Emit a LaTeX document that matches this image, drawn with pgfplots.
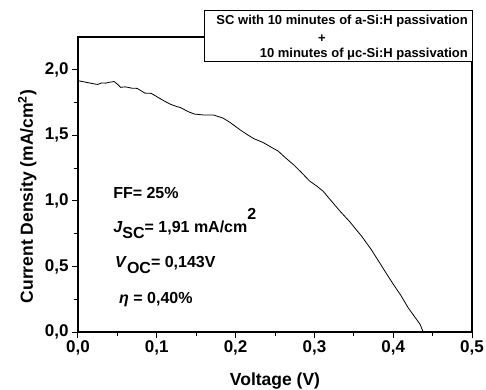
\documentclass[border=0pt]{standalone}
\usepackage{fontspec}
\setmainfont{Liberation Sans}
\usepackage{pgfplots}
\pgfplotsset{compat=1.18}
\begin{document}
\begin{tikzpicture}
\begin{axis}[
  name=ax,
  scale only axis, width=394bp, height=295bp,
  xmin=0, xmax=0.5, ymin=0, ymax=2.25,
  axis line style={line width=1.1bp},
  xtick={0,0.1,0.2,0.3,0.4,0.5},
  ytick={0,0.5,1,1.5,2},
  minor x tick num=1, minor y tick num=1,
  tick align=outside,
  xtick pos=bottom, ytick pos=left,
  major tick length=6bp, minor tick length=4bp,
  every tick/.style={line width=1bp, black},
  /pgf/number format/.cd, use comma, fixed, fixed zerofill, precision=1, assume math mode=true,
  /pgfplots/.cd,
  tick label style={font=\bfseries\fontsize{17bp}{17bp}\selectfont},
  xticklabel style={anchor=base, yshift=-14bp},
  xlabel={Voltage (V)},
  ylabel={Current Density (mA/cm\textsuperscript{2})},
  label style={font=\bfseries\fontsize{17.5bp}{18bp}\selectfont},
  xlabel style={at={(rel axis cs:0.5,0)}, anchor=base, yshift=-53bp},
  ylabel style={at={(rel axis cs:-0.129,0.459)}, anchor=center},
  clip=false,
]
\addplot[black, line width=0.8bp, mark=none] table[row sep=\\] {
x y\\
0.000 1.917\\
0.010 1.905\\
0.020 1.893\\
0.025 1.888\\
0.030 1.900\\
0.035 1.898\\
0.040 1.905\\
0.046 1.910\\
0.050 1.890\\
0.054 1.866\\
0.060 1.870\\
0.068 1.860\\
0.075 1.858\\
0.080 1.840\\
0.085 1.822\\
0.093 1.820\\
0.100 1.795\\
0.110 1.760\\
0.117 1.738\\
0.125 1.720\\
0.130 1.712\\
0.140 1.680\\
0.148 1.662\\
0.160 1.655\\
0.172 1.655\\
0.184 1.632\\
0.193 1.598\\
0.205 1.545\\
0.215 1.505\\
0.223 1.475\\
0.235 1.445\\
0.245 1.410\\
0.254 1.380\\
0.263 1.330\\
0.273 1.279\\
0.283 1.220\\
0.294 1.151\\
0.303 1.113\\
0.311 1.074\\
0.320 1.010\\
0.332 0.925\\
0.345 0.840\\
0.360 0.730\\
0.372 0.630\\
0.383 0.526\\
0.392 0.440\\
0.400 0.365\\
0.409 0.286\\
0.419 0.185\\
0.427 0.118\\
0.434 0.060\\
0.438 0.000\\
};
\begin{scope}[font=\bfseries\fontsize{16bp}{18bp}\selectfont]
\node[anchor=base west, inner sep=0pt] at (rel axis cs:0.089,0.454) {FF= 25\%};
\node[anchor=base west, inner sep=0pt] at (rel axis cs:0.089,0.336) {\textit{J}\raisebox{-6bp}{SC}= 1,91 mA/cm\raisebox{13bp}{2}};
\node[anchor=base west, inner sep=0pt] at (rel axis cs:0.094,0.217) {\textit{V}\raisebox{-6bp}{OC}= 0,143V};
\node[anchor=base west, inner sep=0pt] at (rel axis cs:0.104,0.095) {\textit{η} = 0,40\%};
\end{scope}
\coordinate (O) at (rel axis cs:0,0);
\coordinate (B1) at (rel axis cs:0.320,0.916);
\coordinate (B2) at (rel axis cs:1,1.089);
\coordinate (T1) at (rel axis cs:0.990,1.041);
\coordinate (T2) at (rel axis cs:0.619,0.995);
\coordinate (T3) at (rel axis cs:0.990,0.932);
\end{axis}
\draw[fill=white, line width=0.9bp] (B1) rectangle (B2);
\begin{scope}[font=\bfseries\fontsize{13bp}{15bp}\selectfont]
\node[anchor=base east, inner sep=0pt] at (T1) {SC with 10 minutes of a-Si:H passivation};
\node[anchor=center, inner sep=0pt] at (T2) {+};
\node[anchor=base east, inner sep=0pt] at (T3) {10 minutes of μc-Si:H passivation};
\end{scope}
\pgfresetboundingbox
\path (O) ++(-78bp,-58bp) rectangle ++(486bp,390bp);
\end{tikzpicture}
\end{document}
